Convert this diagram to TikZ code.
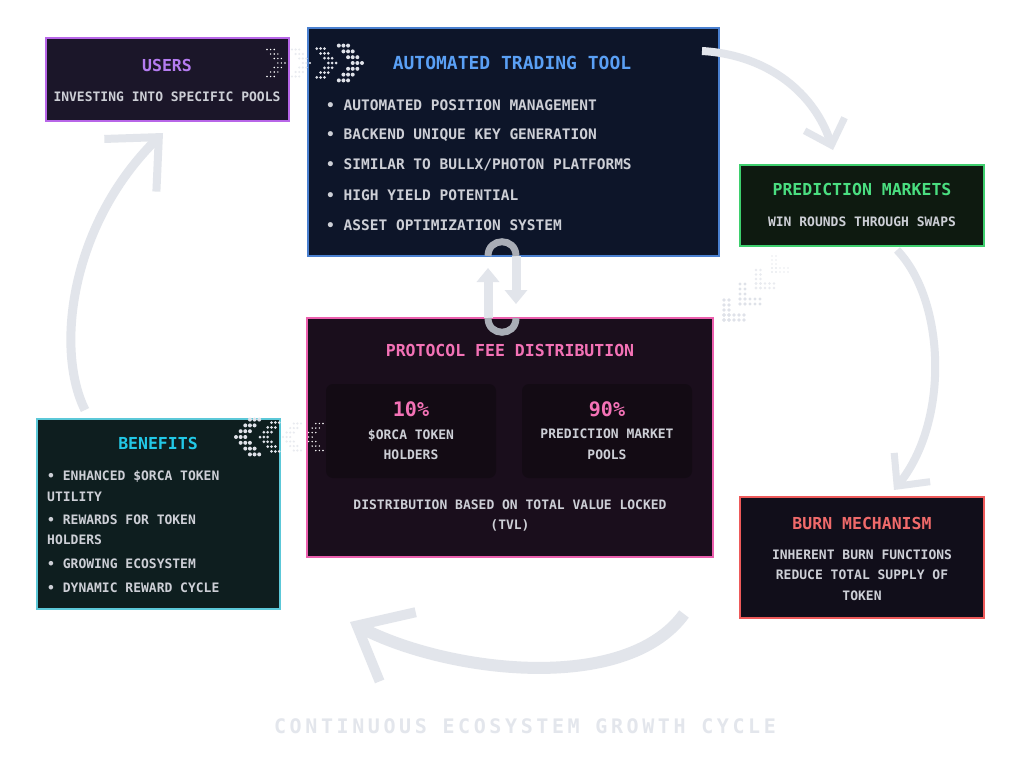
\documentclass[tikz,border=0pt]{standalone}
\usepackage{fontspec}
\setmainfont{DejaVu Sans Mono}
\usepackage{tikz}
\usetikzlibrary{arrows.meta,positioning}
\definecolor{usersfill}{HTML}{1B1629}
\definecolor{usersedge}{HTML}{B866E8}
\definecolor{userstitle}{HTML}{B57CF0}
\definecolor{toolfill}{HTML}{0D1529}
\definecolor{tooledge}{HTML}{4A80D0}
\definecolor{tooltitle}{HTML}{5AA0F5}
\definecolor{predfill}{HTML}{0E1A10}
\definecolor{prededge}{HTML}{3ECF6E}
\definecolor{predtitle}{HTML}{4ADE80}
\definecolor{burnfill}{HTML}{110E1A}
\definecolor{burnedge}{HTML}{EE5A5A}
\definecolor{burntitle}{HTML}{F06A6A}
\definecolor{benefill}{HTML}{0E1E1F}
\definecolor{beneedge}{HTML}{5CC8D8}
\definecolor{benetitle}{HTML}{22C8E6}
\definecolor{feefill}{HTML}{1A0E1C}
\definecolor{feeedge}{HTML}{EC5FAE}
\definecolor{feetitle}{HTML}{F472B6}
\definecolor{sharefill}{HTML}{130B14}
\definecolor{bodygray}{HTML}{CDCFD6}
\definecolor{cyclegray}{HTML}{E2E5EB}
\definecolor{ringgray}{HTML}{A9ADB6}
\definecolor{dotlight}{HTML}{DFE2E9}
\definecolor{dotfaint}{HTML}{E9EBF0}
\definecolor{captiongray}{HTML}{E3E6EC}

% dotted chevron: tip x, tip y, gap, radius, direction (1 right, -1 left), colour
\newcommand{\dotchev}[6]{%
  \foreach \r in {-3,...,3}{
    \foreach \k in {0,1,2}{
      \fill[#6] ({#1-(#5)*(\k+abs(\r))*#3*0.8}, {#2+\r*#3}) circle (#4);
    }
  }%
}
% dotted corner pointing down-left: corner x, corner y, gap, radius, colour
\newcommand{\dotell}[5]{%
  \foreach \i in {0,...,4}{
    \fill[#5] ({#1+\i*#3}, #2) circle (#4);
    \fill[#5] ({#1+\i*#3}, {#2-#3}) circle (#4);
    \fill[#5] (#1, {#2-\i*#3}) circle (#4);
    \fill[#5] ({#1+#3}, {#2-\i*#3}) circle (#4);
  }%
}

\begin{document}
\begin{tikzpicture}[x=1pt, y=-1pt,
  card/.style={draw, line width=1.3pt, inner sep=0pt},
  share/.style={fill=sharefill, rounded corners=7pt, minimum width=170pt, minimum height=94pt, inner sep=0pt},
  heading/.style={font=\fontsize{16.5}{18}\selectfont\bfseries, inner sep=0pt},
  body/.style={font=\fontsize{13}{20.5}\selectfont\bfseries, text=bodygray, align=center, inner sep=0pt},
  bullet/.style={body, align=left, anchor=west},
  percent/.style={font=\fontsize{20}{22}\selectfont\bfseries, text=feetitle, inner sep=0pt},
  cyclearrow/.style={draw=cyclegray, line width=8pt},
  ringarc/.style={draw=ringgray, line width=7pt},
  ringshaft/.style={draw=cyclegray, line width=9pt, -{Triangle[length=14pt,width=22pt]}}
]
\fill[white] (0,0) rectangle (1024,768);
\useasboundingbox (0,0) rectangle (1024,768);

% Users
\node[card, fill=usersfill, draw=usersedge, minimum width=243pt, minimum height=83pt] (users) at (167.5,79.5) {};
\node[heading, text=userstitle] (userstitle) at (167,65) {USERS};
\node[body] (usersnote) at (167,97) {INVESTING INTO SPECIFIC POOLS};

% Automated trading tool
\node[card, fill=toolfill, draw=tooledge, minimum width=411pt, minimum height=228pt] (tool) at (513.5,142) {};
\node[heading, text=tooltitle, font=\fontsize{18}{20}\selectfont\bfseries] (tooltitle) at (512,63) {AUTOMATED TRADING TOOL};
\foreach \txt [count=\n] in {AUTOMATED POSITION MANAGEMENT, BACKEND UNIQUE KEY GENERATION,
    SIMILAR TO BULLX/PHOTON PLATFORMS, HIGH YIELD POTENTIAL, ASSET OPTIMIZATION SYSTEM}
  \node[bullet, font=\fontsize{14.5}{18}\selectfont\bfseries] (toolitem\n) at (326,75+30*\n) {• \txt};

% Prediction markets
\node[card, fill=predfill, draw=prededge, minimum width=244pt, minimum height=81pt] (pred) at (862,205.5) {};
\node[heading, text=predtitle] (predtitle) at (862,189) {PREDICTION MARKETS};
\node[body] (prednote) at (862,222) {WIN ROUNDS THROUGH SWAPS};

% Burn mechanism
\node[card, fill=burnfill, draw=burnedge, minimum width=244pt, minimum height=121pt] (burn) at (862,557.5) {};
\node[heading, text=burntitle] (burntitle) at (862,523) {BURN MECHANISM};
\node[body] (burnnote) at (862,575) {INHERENT BURN FUNCTIONS\\REDUCE TOTAL SUPPLY OF\\TOKEN};

% Benefits
\node[card, fill=benefill, draw=beneedge, minimum width=243pt, minimum height=190pt] (bene) at (158.5,514) {};
\node[heading, text=benetitle] (benetitle) at (158,443) {BENEFITS};
\node[bullet] (beneutility) at (47,486) {• ENHANCED \$ORCA TOKEN\\UTILITY};
\node[bullet] (benerewards) at (47,530) {• REWARDS FOR TOKEN\\HOLDERS};
\node[bullet] (benegrowth) at (47,564) {• GROWING ECOSYSTEM};
\node[bullet] (benecycle) at (47,588) {• DYNAMIC REWARD CYCLE};

% Protocol fee distribution
\node[card, fill=feefill, draw=feeedge, minimum width=406pt, minimum height=239pt] (fee) at (510,437.5) {};
\node[heading, text=feetitle] (feetitle) at (510,350) {PROTOCOL FEE DISTRIBUTION};
\node[share] (shareorca) at (411,431) {};
\node[share] (sharepools) at (607,431) {};
\node[percent] (orcapct) at (411,409) {10\%};
\node[body] (orcanote) at (411,444.5) {\$ORCA TOKEN\\HOLDERS};
\node[percent] (poolspct) at (607,409) {90\%};
\node[body] (poolsnote) at (607,444.5) {PREDICTION MARKET\\POOLS};
\node[body] (feenote) at (510,515.5) {DISTRIBUTION BASED ON TOTAL VALUE LOCKED\\(TVL)};

% Caption
\node[font=\fontsize{20}{22}\selectfont\bfseries\addfontfeature{LetterSpace=18}, text=captiongray] (caption) at (525,726) {CONTINUOUS ECOSYSTEM GROWTH CYCLE};

% Dotted chevrons
\dotchev{285}{63}{4.5}{0.8}{1}{white}
\dotchev{310}{63}{4.5}{1.2}{1}{dotfaint}
\dotchev{336}{63}{4.8}{1.5}{1}{dotlight}
\dotchev{362}{63}{5.8}{2.0}{1}{dotlight}
\dotchev{236}{437}{5.8}{2.0}{-1}{dotlight}
\dotchev{260}{437}{4.8}{1.5}{-1}{dotlight}
\dotchev{283}{437}{4.5}{1.2}{-1}{dotfaint}
\dotchev{305}{437}{4.5}{0.8}{-1}{white}
\dotell{724}{320}{5}{1.9}{dotlight}
\dotell{740}{304}{5}{1.6}{dotlight}
\dotell{756}{288}{4.5}{1.3}{dotfaint}
\dotell{772}{272}{4}{0.9}{dotfaint}

% Tool <-> fee loop
\coordinate (ringtl) at (488,256);
\coordinate (ringtr) at (516,256);
\coordinate (ringbl) at (488,318);
\coordinate (ringbr) at (516,318);
\coordinate (ringup) at (488,268);
\coordinate (ringdown) at (516,304);
\draw[ringshaft] (ringbl) -- (ringup);
\draw[ringshaft] (ringtr) -- (ringdown);
\draw[ringarc] (ringtl) .. controls (488,237) and (516,237) .. (ringtr);
\draw[ringarc] (ringbl) .. controls (488,337) and (516,337) .. (ringbr);

% Growth cycle arrows
\coordinate (toolout) at (702,51);
\coordinate (predin) at (833,150);
\coordinate (predout) at (897,250);
\coordinate (burnin) at (894,490);
\coordinate (burnout) at (684,614);
\coordinate (feein) at (350,622);
\coordinate (beneout) at (85,410);
\coordinate (usersin) at (163,133);
\draw[cyclearrow, -{Straight Barb[length=22pt,width=42pt,line width=7pt]}] (toolout) .. controls (770,55) and (815,95) .. (predin);
\draw[cyclearrow, -{Straight Barb[length=24pt,width=46pt,line width=7pt]}] (predout) .. controls (945,300) and (950,420) .. (burnin);
\draw[cyclearrow, line width=12pt, -{Straight Barb[length=46pt,width=78pt,line width=10pt]}] (burnout) .. controls (625,695) and (446,672) .. (feein);
\draw[cyclearrow, line width=9pt, -{Straight Barb[length=40pt,width=74pt,line width=8pt]}] (beneout) .. controls (55,350) and (70,225) .. (usersin);
\end{tikzpicture}
\end{document}
